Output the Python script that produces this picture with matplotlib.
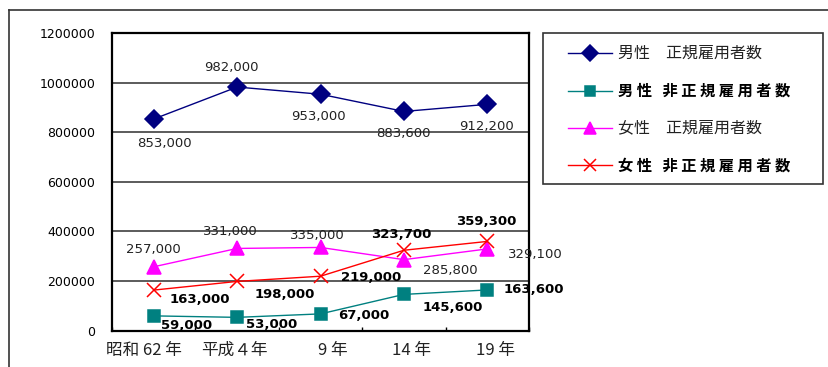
import matplotlib
matplotlib.use("Agg")
import matplotlib.pyplot as plt
from matplotlib.lines import Line2D
from matplotlib.patches import Rectangle
from matplotlib.transforms import ScaledTranslation

plt.rcParams["font.family"] = ["Noto Sans CJK JP", "DejaVu Sans"]

# data
years = ["昭和 62 年", "平成４年", "9 年", "14 年", "19 年"]
men_regular = [853000, 982000, 953000, 883600, 912200]
men_nonregular = [59000, 53000, 67000, 145600, 163600]
women_regular = [257000, 331000, 335000, 285800, 329100]
women_nonregular = [163000, 198000, 219000, 323700, 359300]
names = ["男性　正規雇用者数", "男性　非正規雇用者数", "女性　正規雇用者数", "女性　非正規雇用者数"]

W, H = 829, 367
fig = plt.figure(figsize=(W / 100, H / 100), dpi=100)
ax = fig.add_axes([112 / W, 1 - 330.5 / H, (529 - 112) / W, (330.5 - 33) / H])

# style per series: colour, marker, size, bold labels, label offsets (px, down positive)
styles = [
    dict(c="#000080", m="D", ms=9, bold=False,
         off=[(11, 24), (-6, -20), (-2, 22), (-1, 22), (-1, 22)]),
    dict(c="#008080", m="s", ms=9, bold=True,
         off=[(33, 10), (35, 7), (43, 2), (49, 13), (47, 0)]),
    dict(c="#ff00ff", m="^", ms=10.5, bold=False,
         off=[(0, -17), (-7, -17), (-3, -12), (46, 11), (48, 6)]),
    dict(c="#ff0000", m="x", ms=10, bold=True,
         off=[(46, 9), (48, 13), (51, 1), (-3, -16), (-1, -20)]),
]
series = [men_regular, men_nonregular, women_regular, women_nonregular]
xs = [i + 0.5 for i in range(len(years))]

for vals, st in zip(series, styles):
    ax.plot(xs, vals, color=st["c"], lw=1, marker=st["m"], ms=st["ms"],
            mfc=st["c"], mec=st["c"], mew=1.1, zorder=3)
    for x, v, (dx, dy) in zip(xs, vals, st["off"]):
        ax.annotate(f"{v:,}", (x, v), xytext=(dx, -dy), textcoords="offset pixels",
                    ha="center", va="center", family="DejaVu Sans",
                    fontsize=9.5, fontweight="bold" if st["bold"] else "normal",
                    color="black" if st["bold"] else "#222222",
                    annotation_clip=False, zorder=4)

ax.set_xlim(0, 5)
ax.set_ylim(0, 1200000)
ax.set_yticks(range(0, 1200001, 200000))
ax.set_yticklabels([str(v) for v in range(0, 1200001, 200000)],
                   family="DejaVu Sans", fontsize=9)
ax.tick_params(axis="y", length=0, pad=12)
ax.yaxis.grid(True, color="#404040", lw=1.2)
ax.set_axisbelow(True)

ax.set_xticks(range(0, 6))
ax.set_xticklabels([])
ax.tick_params(axis="x", which="major", direction="in", length=3, width=1)
ax.set_xticks(xs, minor=True)
ax.set_xticklabels(years, minor=True, fontsize=12, color="#222222")
ax.tick_params(axis="x", which="minor", length=0, pad=8)
for lab, dx in zip(ax.get_xticklabels(minor=True), [-10, -3, 12, 8, 8]):
    lab.set_transform(lab.get_transform() + ScaledTranslation(dx / 100, 0, fig.dpi_scale_trans))

for sp in ax.spines.values():
    sp.set_linewidth(1.6)
    sp.set_color("black")

# outer chart frame (top and left only visible)
fig.add_artist(Line2D([9.5 / W, 1], [1 - 10 / H, 1 - 10 / H], color="#333333", lw=1.2))
fig.add_artist(Line2D([9.5 / W, 9.5 / W], [0, 1 - 10 / H], color="#333333", lw=1.2))

# legend box
fig.add_artist(Rectangle((543 / W, 1 - 184 / H), (823 - 543) / W, (184 - 33) / H,
                         transform=fig.transFigure, fill=False, ec="#333333", lw=1.2))
for i, (name, st) in enumerate(zip(names, styles)):
    y = 1 - (53 + 37.5 * i) / H
    fig.add_artist(Line2D([568 / W, 612 / W], [y, y], color=st["c"], lw=1))
    fig.add_artist(Line2D([590 / W], [y], color=st["c"], marker=st["m"], ms=st["ms"] * 0.85,
                          mfc=st["c"], mec=st["c"], mew=1.1))
    if st["bold"]:
        label = " ".join(name.replace("　", " "))
        fig.text(618 / W, y, label, fontsize=11, fontweight="bold", va="center")
    else:
        fig.text(618 / W, y, name, fontsize=11.5, color="#222222", va="center")

fig.savefig("out.png", dpi=100)
